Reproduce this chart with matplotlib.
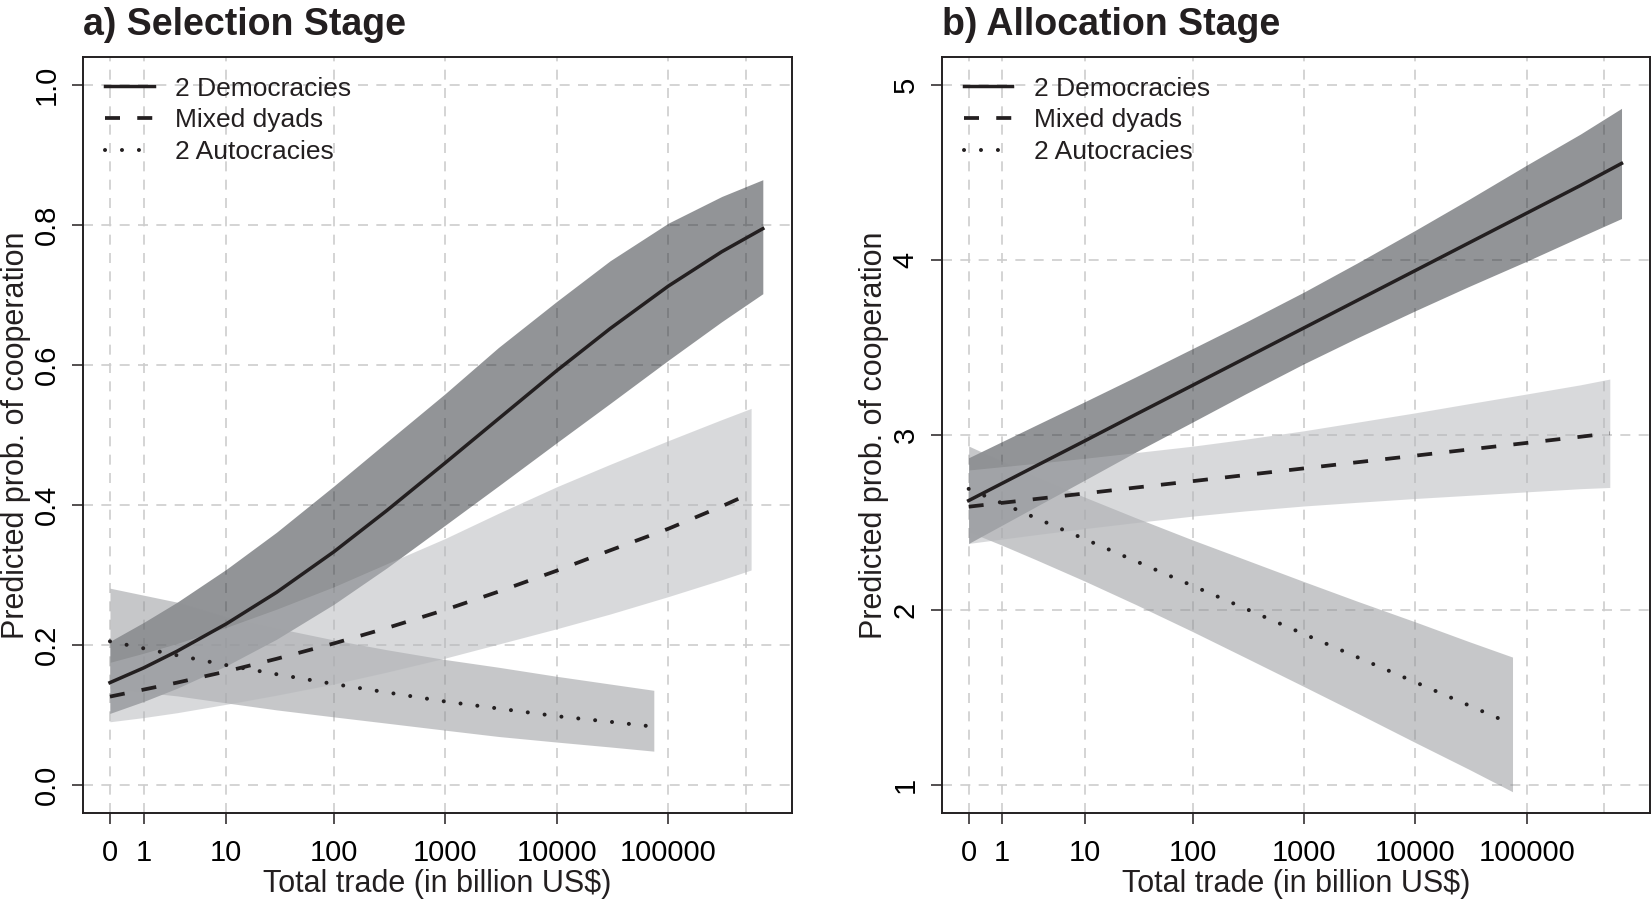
import numpy as np
import matplotlib
matplotlib.use('Agg')
import matplotlib.pyplot as plt

plt.rcParams['font.family'] = ['Liberation Sans', 'DejaVu Sans']

trade = [0, 1, 3, 10, 30, 100, 300, 1000, 3000, 10000, 30000, 100000, 300000]
trade_dem = trade + [700000]
trade_mix = trade + [550000]
trade_aut = trade[:11] + [74000]

xticks = [0, 1, 10, 100, 1000, 10000, 100000]
xticklabels = ['0', '1', '10', '100', '1000', '10000', '100000']
extra_grid = 490000

# a) selection stage
sel_dem = [0.146, 0.167, 0.191, 0.230, 0.275, 0.333, 0.392, 0.460, 0.523, 0.592, 0.652, 0.713, 0.762, 0.795]
sel_dem_hi = [0.205, 0.232, 0.261, 0.308, 0.361, 0.427, 0.490, 0.559, 0.625, 0.691, 0.749, 0.803, 0.841, 0.865]
sel_dem_lo = [0.102, 0.119, 0.138, 0.170, 0.208, 0.258, 0.310, 0.371, 0.427, 0.489, 0.545, 0.607, 0.662, 0.702]
sel_mix = [0.126, 0.136, 0.146, 0.162, 0.180, 0.202, 0.224, 0.250, 0.276, 0.306, 0.335, 0.366, 0.398, 0.417]
sel_mix_hi = [0.175, 0.188, 0.202, 0.225, 0.251, 0.283, 0.316, 0.352, 0.388, 0.426, 0.458, 0.492, 0.522, 0.538]
sel_mix_lo = [0.090, 0.096, 0.103, 0.115, 0.128, 0.144, 0.161, 0.181, 0.201, 0.223, 0.244, 0.269, 0.293, 0.307]
sel_aut = [0.205, 0.195, 0.185, 0.171, 0.158, 0.144, 0.132, 0.119, 0.109, 0.098, 0.090, 0.083]
sel_aut_hi = [0.281, 0.271, 0.261, 0.240, 0.224, 0.207, 0.193, 0.179, 0.168, 0.155, 0.144, 0.135]
sel_aut_lo = [0.138, 0.132, 0.127, 0.117, 0.107, 0.097, 0.088, 0.078, 0.069, 0.061, 0.054, 0.048]

# b) allocation stage
all_dem = [2.625, 2.724, 2.823, 2.967, 3.116, 3.284, 3.440, 3.612, 3.769, 3.941, 4.098, 4.270, 4.427, 4.553]
all_dem_hi = [2.870, 2.963, 3.056, 3.191, 3.331, 3.494, 3.645, 3.817, 3.983, 4.171, 4.347, 4.545, 4.721, 4.868]
all_dem_lo = [2.380, 2.485, 2.590, 2.743, 2.901, 3.074, 3.235, 3.407, 3.555, 3.711, 3.849, 3.995, 4.133, 4.238]
all_mix = [2.590, 2.612, 2.634, 2.666, 2.699, 2.736, 2.771, 2.809, 2.844, 2.882, 2.917, 2.955, 2.990, 3.010]
all_mix_hi = [2.800, 2.819, 2.838, 2.867, 2.899, 2.936, 2.976, 3.024, 3.073, 3.127, 3.179, 3.235, 3.287, 3.320]
all_mix_lo = [2.380, 2.405, 2.430, 2.465, 2.499, 2.536, 2.566, 2.594, 2.615, 2.637, 2.655, 2.675, 2.693, 2.700]
all_aut = [2.692, 2.609, 2.525, 2.404, 2.280, 2.138, 2.007, 1.862, 1.730, 1.586, 1.454, 1.345]
all_aut_hi = [2.937, 2.849, 2.763, 2.644, 2.528, 2.400, 2.287, 2.162, 2.050, 1.931, 1.819, 1.730]
all_aut_lo = [2.447, 2.369, 2.287, 2.164, 2.032, 1.876, 1.727, 1.562, 1.410, 1.241, 1.089, 0.960]

labels = ['2 Democracies', 'Mixed dyads', '2 Autocracies']

ink = '#231f20'
gridcol = '#cdcdcd'
fs = 21

def fwd(x):
    return np.log10(np.asarray(x, dtype=float) + 1)

def inv(y):
    return 10 ** np.asarray(y, dtype=float) - 1

styles = [dict(ls='-', lw=2.5),
          dict(ls=(0, (4.0, 4.6)), lw=2.7),
          dict(ls=(0, (0.01, 4.2)), lw=2.9, dash_capstyle='round')]


def panel(ax, title, yticks, ylabels, ylim, dem, mix, aut):
    ax.set_xscale('function', functions=(fwd, inv))
    ax.set_xlim(-0.423, 1.27e6)
    ax.set_ylim(*ylim)

    ax.grid(True, color=gridcol, ls=(0, (6, 5)), lw=1.2)
    ax.axvline(extra_grid, color=gridcol, ls=(0, (6, 5)), lw=1.2, zorder=0.5)
    ax.set_axisbelow(True)

    # bands: dems first, autocracies and mixed laid over them
    ax.fill_between(trade_dem, dem[1], dem[2], color='#272b31', alpha=0.5, lw=0)
    ax.fill_between(trade_aut, aut[1], aut[2], color='#8f9195', alpha=0.5, lw=0)
    ax.fill_between(trade_mix, mix[1], mix[2], color='#b3b5b9', alpha=0.5, lw=0)

    h1, = ax.plot(trade_dem, dem[0], color=ink, **styles[0])
    h2, = ax.plot(trade_mix, mix[0], color=ink, **styles[1])
    h3, = ax.plot(trade_aut, aut[0], color=ink, **styles[2])

    ax.set_xticks(xticks, xticklabels, fontsize=fs)
    ax.set_yticks(yticks, ylabels, fontsize=fs, rotation=90, va='center', ha='right')
    ax.minorticks_off()
    ax.tick_params(axis='x', length=8, width=1.1, pad=11, color=ink)
    ax.tick_params(axis='y', length=8, width=1.1, pad=8, color=ink)

    for s in ax.spines.values():
        s.set_linewidth(1.4)
        s.set_color(ink)

    ax.set_xlabel('Total trade (in billion US$)', fontsize=22, color=ink)
    ax.set_ylabel('Predicted prob. of cooperation', fontsize=22, color=ink)
    ax.xaxis.set_label_coords(0.5, -0.075)
    ax.yaxis.set_label_coords(-0.0745, 0.5)

    ax.set_title(title, loc='left', fontsize=27, fontweight='bold', pad=16, color=ink)

    leg = ax.legend([h1, h2, h3], labels, loc='upper left', bbox_to_anchor=(0.0306, 0.9745),
                    frameon=False, fontsize=19, borderpad=0, borderaxespad=0,
                    handlelength=1.85, handletextpad=0.8, labelspacing=0.3)
    for t in leg.get_texts():
        t.set_color(ink)


fig = plt.figure(figsize=(16.51, 9.02), dpi=100)
ax1 = fig.add_axes([0.05045, 0.09900, 0.42908, 0.83747])
ax2 = fig.add_axes([0.57056, 0.09900, 0.42908, 0.83747])

panel(ax1, 'a) Selection Stage', [0, 0.2, 0.4, 0.6, 0.8, 1.0],
      ['0.0', '0.2', '0.4', '0.6', '0.8', '1.0'], (-0.04, 1.04),
      (sel_dem, sel_dem_hi, sel_dem_lo), (sel_mix, sel_mix_hi, sel_mix_lo),
      (sel_aut, sel_aut_hi, sel_aut_lo))
panel(ax2, 'b) Allocation Stage', [1, 2, 3, 4, 5], ['1', '2', '3', '4', '5'], (0.84, 5.16),
      (all_dem, all_dem_hi, all_dem_lo), (all_mix, all_mix_hi, all_mix_lo),
      (all_aut, all_aut_hi, all_aut_lo))

fig.savefig('out.png', dpi=100)
